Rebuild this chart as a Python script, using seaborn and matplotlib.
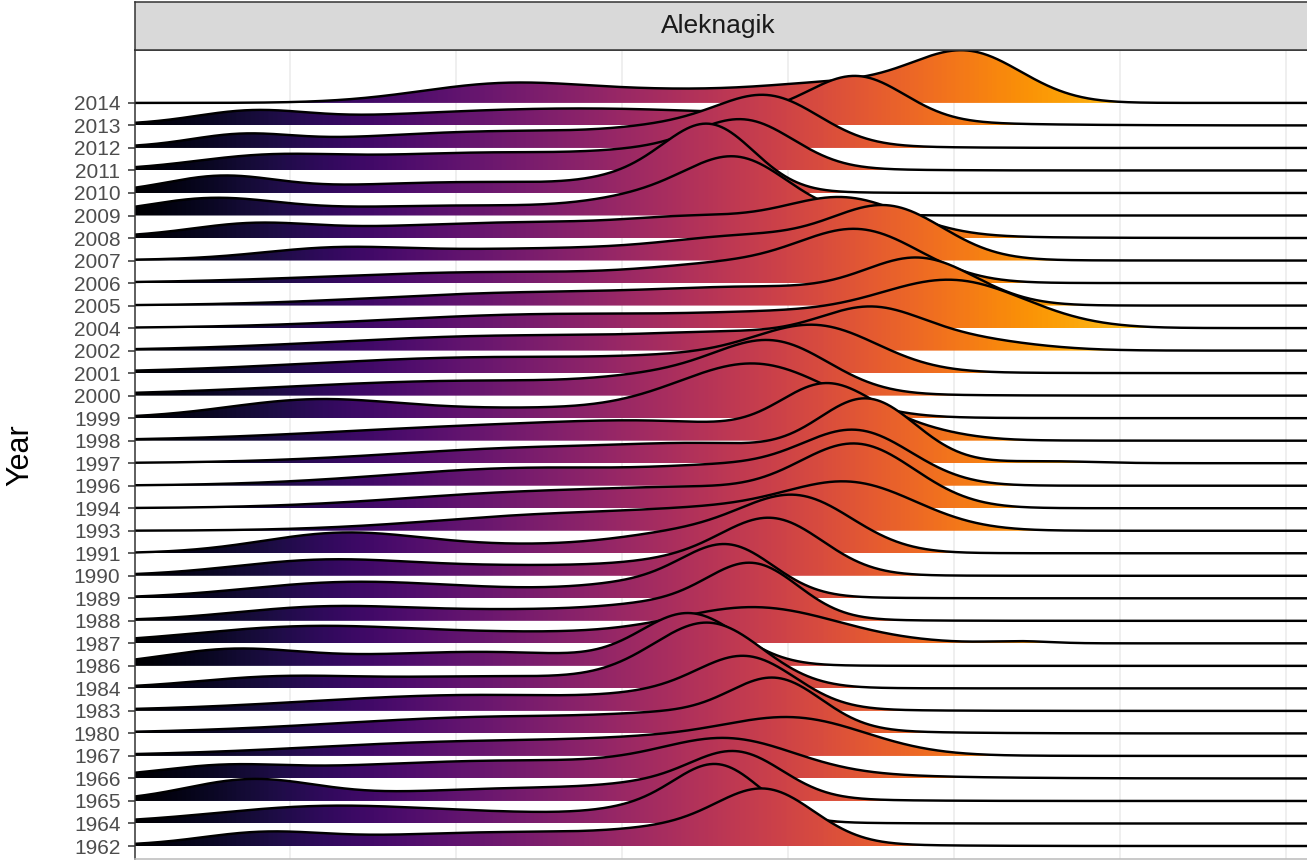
import numpy as np
import matplotlib
matplotlib.use("Agg")
import matplotlib.pyplot as plt
import seaborn as sns

years = [1962, 1964, 1965, 1966, 1967, 1980, 1983, 1984, 1986, 1987, 1988,
         1989, 1990, 1991, 1993, 1994, 1996, 1997, 1998, 1999, 2000, 2001,
         2002, 2004, 2005, 2006, 2007, 2008, 2009, 2010, 2011, 2012, 2013, 2014]

# density shape of each year: centre / spread / height
centres = [
    [12.5, 38.5, 55.5, 63.3], [18.5, 42.5, 52.5, 58.5], [11.5, 40.5, 54.5, 60.5],
    [8.5, 38.5, 59.5], [36.5, 54.5, 66.5], [38.5, 56.5, 64.3],
    [34.5, 54.5, 61.5], [13.5, 36.5, 51.5, 57.8], [9.5, 34.5, 55.5],
    [16.5, 42.5, 62.5, 88.5], [18.5, 42.5, 54.5, 62.0], [20.5, 42.5, 52.5, 59.5],
    [18.5, 42.5, 56.5, 64.0], [20.5, 42.5, 56.5, 66.5], [44.5, 60.5, 72.0],
    [42.5, 58.5, 72.3], [40.5, 60.5, 72.3], [42.5, 59.5, 73.3, 91.5],
    [38.5, 54.5, 69.0, 76.5], [17.5, 42.5, 55.5, 63.2], [34.5, 55.5, 64.2],
    [36.5, 58.5, 68.5], [38.5, 62.5, 73.5, 81.5], [42.5, 66.5, 82.0],
    [40.5, 64.5, 78.7], [36.5, 60.5, 72.7], [19.5, 42.5, 62.5, 75.5],
    [11.5, 41.5, 56.5, 71.0], [7.5, 33.5, 52.5, 60.5], [8.5, 34.5, 51.5, 57.7],
    [12.5, 36.5, 53.5, 61.3], [10.5, 38.5, 55.5, 63.7], [11.5, 44.5, 72.2],
    [36.5, 56.5, 71.5, 83.3],
]
spreads = [
    [6, 17, 6, 4.8], [11, 13, 5, 4.2], [6.5, 15, 6, 4.5],
    [6, 20, 6.5], [18, 8, 7], [18, 7, 4.5],
    [17, 6, 4.8], [8, 14, 5, 5.2], [7, 13, 4.8],
    [11, 15, 8, 3], [9, 14, 6, 4.5], [10, 14, 6, 4.5],
    [9, 14, 6, 5], [8, 15, 7, 5.5], [14, 8, 6.5],
    [15, 8, 5.8], [15, 7, 5.5], [16, 8, 4.8, 4.5],
    [18, 10, 4.5, 5], [8.5, 16, 6, 6.5], [19, 7, 5.5],
    [19, 8, 6], [18, 9, 5, 7], [17, 9, 7.2],
    [16, 10, 5.5], [17, 8, 6], [7, 18, 8, 5.5],
    [6, 20, 6, 6], [6.5, 16, 6, 5], [5.5, 15, 5, 4.4],
    [7, 16, 6, 4.8], [5, 17, 6, 5], [5.5, 20, 4.8],
    [8.5, 12, 7, 5.5],
]
heights = [
    [10, 14, 10, 48], [16, 9, 10, 50], [20, 13, 10, 38],
    [8, 18, 30], [15, 8, 32], [17, 10, 44],
    [16, 10, 45], [9, 12, 8, 58], [15, 14, 49],
    [15, 10, 32, 2], [12, 11, 10, 49], [14, 8, 10, 45],
    [14, 10, 10, 50], [18, 8, 16, 50], [17, 12, 42],
    [17, 10, 60], [18, 12, 51], [16, 10, 60, 1.8],
    [15, 9, 47, 12], [16, 10, 12, 44], [15, 14, 44],
    [16, 9, 40], [15, 12, 30, 12], [14, 10, 45],
    [13, 14, 42], [11, 15, 48], [8, 12, 18, 48],
    [10, 16, 9, 35], [15, 10, 15, 50], [15, 11, 12, 60],
    [10, 18, 10, 41], [10, 17, 12, 42], [11, 17, 43],
    [17, 12, 14, 48],
]

x_lo, x_hi = 0.0, 117.4
grid_x = [15.5, 32.1, 48.7, 65.3, 81.9, 98.5, 115.1]
ridge_scale = 0.0444

sns.set_theme(style="white")
plt.rcParams['font.family'] = ['Liberation Sans', 'DejaVu Sans']

fig = plt.figure(figsize=(13.07, 8.6), dpi=100)
ax = fig.add_axes([0.1033, 0.00116, 0.8982, 0.9407])
strip = fig.add_axes([0.1033, 0.9419, 0.8982, 0.0558])

xs = np.linspace(x_lo, x_hi, 1500)
grad = np.linspace(0, 1, 800).reshape(1, -1)
n = len(years)

# top ridge first so lower ridges sit on top of it
for i in range(n - 1, -1, -1):
    dens = np.zeros_like(xs)
    for c, s, h in zip(centres[i], spreads[i], heights[i]):
        dens += h * np.exp(-0.5 * ((xs - c) / s) ** 2)
    top = i + dens * ridge_scale
    z = 2 + 2 * (n - 1 - i)
    poly = ax.fill_between(xs, i, top, facecolor='none', edgecolor='none', zorder=z)
    im = ax.imshow(grad, cmap='inferno', aspect='auto', origin='lower',
                   extent=[x_lo, x_hi, i, top.max()], zorder=z,
                   interpolation='bilinear')
    im.set_clip_path(poly.get_paths()[0], transform=ax.transData)
    sns.lineplot(x=xs, y=top, ax=ax, color='black', lw=1.75, zorder=z + 1,
                 estimator=None, sort=False, legend=False)

ax.set_xlim(x_lo, x_hi)
ax.set_ylim(-0.577, 35.35)
ax.set_xticks(grid_x)
ax.set_xticklabels([])
ax.grid(axis='x', color='#EBEBEB', lw=1.1, zorder=0)
ax.grid(axis='y', visible=False)
ax.set_axisbelow(True)
ax.set_yticks(range(n))
ax.set_yticklabels([str(y) for y in years])
ax.tick_params(axis='y', left=True, length=5, width=1.1, color='#333333',
               labelcolor='#4D4D4D', labelsize=15, pad=5.5)
ax.tick_params(axis='x', bottom=False, length=0)
ax.set_xlabel('')
ax.set_ylabel('')
for side, sp in ax.spines.items():
    sp.set_color('#333333')
    sp.set_linewidth(1.1)
    sp.set_visible(True)
    sp.set_zorder(200)
ax.spines['bottom'].set_color('#BBBBBB')

strip.set_facecolor('#D9D9D9')
strip.set_xticks([])
strip.set_yticks([])
for sp in strip.spines.values():
    sp.set_color('#333333')
    sp.set_linewidth(1.1)
strip.text(0.4965, 0.5, 'Aleknagik', transform=strip.transAxes, ha='center',
           va='center', fontsize=19, color='#1A1A1A')

fig.text(20 / 1307, 405 / 860, 'Year', rotation=90, ha='center', va='center',
         fontsize=22, color='black')

fig.savefig('out.png', dpi=100)
